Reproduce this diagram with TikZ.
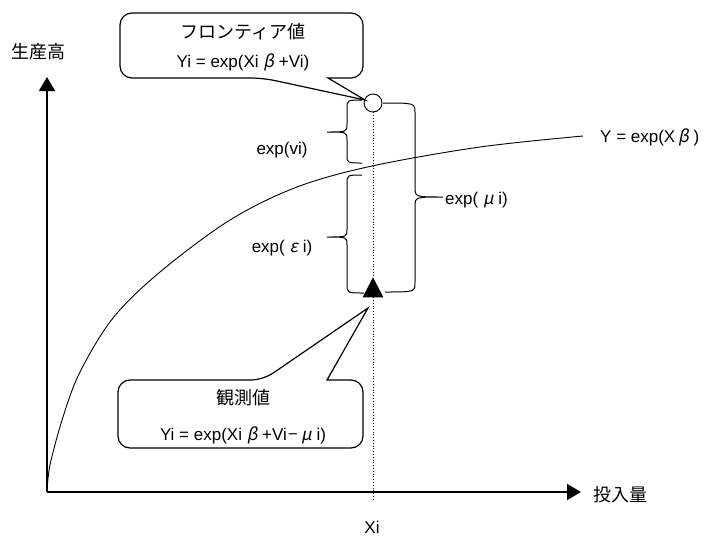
\documentclass[tikz,border=0pt]{standalone}
\usepackage{fontspec}
\setmainfont{Liberation Sans}
\newfontfamily\jp{Noto Sans CJK JP}
\newfontfamily\grk[FakeSlant=0.2]{Noto Sans CJK JP}
\usetikzlibrary{arrows.meta,shapes.geometric}
\begin{document}
\begin{tikzpicture}[x=1pt,y=-1pt,
  lbl/.style={inner sep=0pt,font=\fontsize{17}{19}\selectfont},
  jlbl/.style={inner sep=0pt,font=\fontsize{18}{20}\selectfont\jp},
  axis/.style={line width=1.3pt,-{Triangle[length=14pt,width=16pt]}},
  callout/.style={draw,line width=1.2pt,fill=white},
  brace/.style={line width=1pt}]
\useasboundingbox (0,0) rectangle (719,541);
% axes
\coordinate (O) at (47,492);
\coordinate (ytop) at (47,77);
\coordinate (xend) at (581,492);
\draw[axis] (O) -- (ytop);
\draw[axis] (O) -- (xend);
\node[jlbl] (ylab) at (38,52) {生産高};
\node[jlbl] (xlab) at (620,495) {投入量};
\node[lbl] (xi) at (372,527) {Xi};
% frontier curve
\draw[line width=0.9pt] plot[smooth,tension=0.55] coordinates
  {(47,492) (50,465) (63,417) (80,372) (113,318) (160,272) (230,220) (297,187) (372,166) (480,147) (583,136)};
\node[lbl,anchor=west] (ycurve) at (600,137) {Y = exp(X\,{\grk β} )};
% dotted vertical
\node[draw,circle,minimum size=18pt,inner sep=0pt,line width=0.9pt,fill=white] (front) at (373,103) {};
\coordinate (xbase) at (373,500);
\draw[dotted,line width=0.8pt] (front.south) -- (xbase);
% observed triangle
\node[fill=black,isosceles triangle,shape border rotate=90,isosceles triangle apex angle=55,minimum height=20pt,inner sep=0pt] (obs) at (373,291) {};
% braces
\draw[brace] (362,100) .. controls (347,100) .. (347,109) -- (347,124) .. controls (347,132) .. (327,132) .. controls (347,132) .. (347,140) -- (347,155) .. controls (347,163) .. (362,163);
\draw[brace] (362,175) .. controls (347,175) .. (347,184) -- (347,229) .. controls (347,237) .. (327,237) .. controls (347,237) .. (347,245) -- (347,284) .. controls (347,293) .. (364,293);
\draw[brace] (383,103) .. controls (415,103) .. (415,113) -- (415,187) .. controls (415,197) .. (443,197) .. controls (415,197) .. (415,207) -- (415,282) .. controls (415,292) .. (385,292);
\node[lbl] (vi) at (282,150) {exp(vi)};
\node[lbl] (eps) at (282,248) {exp( {\grk ε} i)};
\node[lbl,anchor=west] (mu) at (445,200) {exp( {\grk μ} i)};
% callout frontier
\draw[callout] (120,45) [rounded corners=12pt] -- (120,78) -- (263,78) [sharp corners] -- (365,100) -- (328,78) [rounded corners=12pt] -- (363,78) -- (363,13) -- (120,13) -- cycle;
\node[jlbl] (ftitle) at (243,32) {フロンティア値};
\node[lbl] (fform) at (243,62) {Yi = exp(Xi {\grk β} +Vi)};
% callout observed
\draw[callout] (118,414) [rounded corners=12pt] -- (118,380) -- (263,380) [sharp corners] -- (368,308) -- (327,380) [rounded corners=12pt] -- (363,380) -- (363,448) -- (118,448) -- cycle;
\node[jlbl] (otitle) at (243,398) {観測値};
\node[lbl] (oform) at (243,435) {Yi = exp(Xi {\grk β} +Vi{\grk −} {\grk μ} i)};
\end{tikzpicture}
\end{document}
